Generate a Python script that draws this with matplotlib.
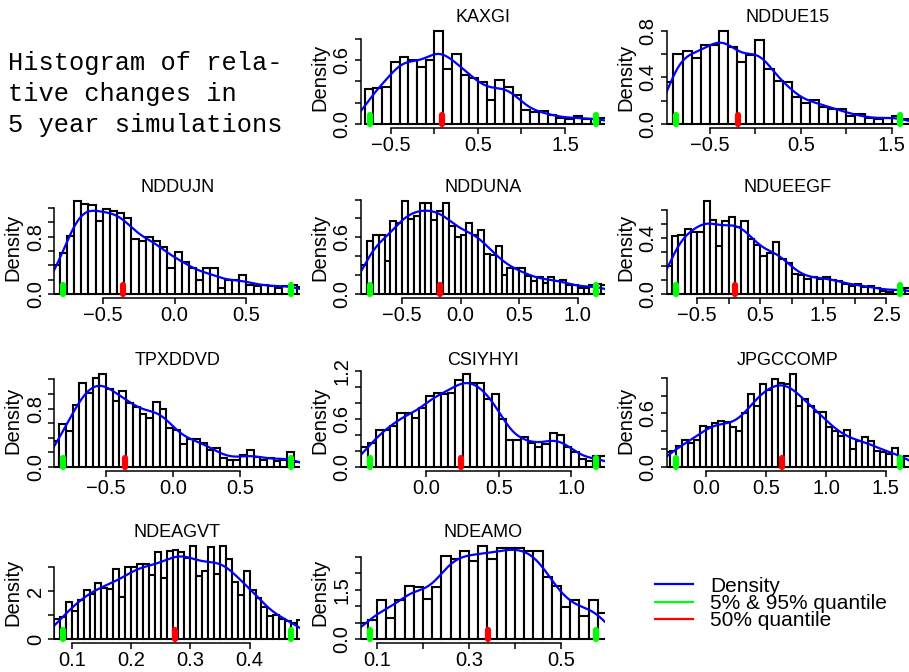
import numpy as np
import matplotlib.pyplot as plt
from matplotlib.lines import Line2D

plt.rcParams['font.family'] = ['Liberation Sans', 'DejaVu Sans']

W, H = 909, 672

# =========================
# Datos
# =========================

names = ["KAXGI", "NDDUE15", "NDDUJN", "NDDUNA", "NDUEEGF",
         "TPXDDVD", "CSIYHYI", "JPGCCOMP", "NDEAGVT", "NDEAMO"]

bin_start = [-0.8, -1.0, -0.85, -0.85, -1.0, -0.9, -0.45, -0.35, 0.07, 0.06]
bin_width = [0.1, 0.1, 0.05, 0.05, 0.1, 0.05, 0.05, 0.05, 0.01, 0.02]

h_kaxgi = [0.33, 0.34, 0.35, 0.58, 0.63, 0.60, 0.54, 0.60, 0.87, 0.52, 0.66,
           0.46, 0.43, 0.39, 0.23, 0.41, 0.35, 0.27, 0.13, 0.11, 0.12, 0.08, 0.06,
           0.045, 0.075, 0.045, 0.045, 0.06]
h_nddue15 = [0.36, 0.60, 0.63, 0.565, 0.68, 0.68, 0.795, 0.66, 0.53, 0.59, 0.72, 0.47,
             0.37, 0.36, 0.23, 0.18, 0.21, 0.15, 0.13, 0.13, 0.066, 0.083, 0.05, 0.04,
             0.055, 0.066, 0.04]
h_nddujn = [0.40, 0.57, 0.81, 1.29, 1.26, 1.24, 1.02, 1.18, 1.16, 1.13, 1.06, 0.76,
            0.74, 0.80, 0.74, 0.66, 0.36, 0.59, 0.44, 0.36, 0.19, 0.36, 0.36, 0.09,
            0.19, 0.19, 0.26, 0.12, 0.115, 0.125, 0.115, 0.09, 0.115, 0.13, 0.10]
h_nddduna = [0.31, 0.565, 0.625, 0.625, 0.35, 0.77, 0.75, 0.98, 0.795, 0.83, 0.965, 0.965,
             0.78, 0.88, 0.965, 0.72, 0.60, 0.62, 0.75, 0.62, 0.68, 0.42, 0.41, 0.51,
             0.20, 0.28, 0.27, 0.27, 0.19, 0.14, 0.18, 0.12, 0.18, 0.14, 0.15, 0.09,
             0.09, 0.06, 0.06, 0.09, 0.11, 0.095]
h_nduegf = [0.20, 0.41, 0.42, 0.46, 0.44, 0.44, 0.66, 0.53, 0.34, 0.52, 0.55, 0.48,
            0.52, 0.39, 0.35, 0.27, 0.29, 0.37, 0.25, 0.22, 0.14, 0.136, 0.107, 0.12,
            0.107, 0.124, 0.10, 0.095, 0.07, 0.06, 0.07, 0.048, 0.06, 0.043, 0.024,
            0.017, 0.029, 0.043, 0.04]
h_tpxddvd = [0.35, 0.586, 0.494, 0.847, 1.153, 1.007, 1.222, 1.268, 1.062, 0.902, 1.043,
             0.87, 0.824, 0.732, 0.677, 0.892, 0.80, 0.54, 0.513, 0.32, 0.39, 0.39, 0.33,
             0.23, 0.26, 0.128, 0.10, 0.092, 0.16, 0.23, 0.137, 0.092, 0.128, 0.082,
             0.10, 0.206, 0.069]
h_csiyhyi = [0.25, 0.295, 0.46, 0.46, 0.51, 0.68, 0.68, 0.62, 0.74, 0.89, 0.93, 0.91,
             0.93, 1.09, 1.16, 1.05, 1.05, 0.85, 0.91, 0.60, 0.34, 0.34, 0.38, 0.295,
             0.245, 0.286, 0.42, 0.40, 0.245, 0.19, 0.105, 0.07, 0.135, 0.135]
h_jpgccomp = [0.17, 0.178, 0.23, 0.304, 0.267, 0.304, 0.463, 0.452, 0.489, 0.519, 0.50,
              0.444, 0.407, 0.60, 0.822, 0.685, 0.926, 0.859, 0.981, 0.944, 0.933, 1.037,
              0.685, 0.759, 0.685, 0.611, 0.611, 0.444, 0.407, 0.352, 0.415, 0.204,
              0.296, 0.333, 0.289, 0.178, 0.167, 0.148, 0.215, 0.111, 0.12]
h_ndeagvt = [0.85, 0.91, 1.54, 1.19, 1.64, 2.03, 1.89, 2.34, 2.14, 2.10, 2.94, 1.75,
             3.03, 3.03, 3.15, 3.12, 2.66, 3.64, 2.56, 3.68, 3.73, 3.64, 3.40, 3.87,
             2.62, 2.83, 3.85, 2.70, 3.87, 3.36, 2.38, 1.82, 2.84, 2.03, 1.72, 1.33,
             0.98, 1.01, 0.84, 0.77, 0.66, 0.80]
h_ndeamo = [0.50, 0.59, 1.17, 0.64, 1.17, 1.62, 1.58, 1.22, 1.58, 2.51, 2.43, 2.66,
            2.38, 2.81, 2.43, 2.76, 2.76, 2.76, 2.66, 2.66, 1.88, 1.62, 0.97, 1.17,
            0.69, 1.17, 0.79]

heights = [h_kaxgi, h_nddue15, h_nddujn, h_nddduna, h_nduegf,
           h_tpxddvd, h_csiyhyi, h_jpgccomp, h_ndeagvt, h_ndeamo]

q05 = [-0.743, -0.875, -0.774, -0.776, -0.842, -0.818, -0.39, -0.255, 0.0859, 0.0841]
q50 = [0.084, -0.187, -0.36, -0.173, 0.097, -0.358, 0.239, 0.632, 0.2745, 0.342]
q95 = [1.856, 1.59, 0.81, 1.156, 2.715, 0.878, 1.17, 1.618, 0.4697, 0.5758]

x_ticks = [[-0.5, 0.0, 0.5, 1.0, 1.5], [-0.5, 0.0, 0.5, 1.0, 1.5], [-0.5, 0.0, 0.5],
           [-0.5, 0.0, 0.5, 1.0], [-0.5, 0.0, 0.5, 1.0, 1.5, 2.0, 2.5], [-0.5, 0.0, 0.5],
           [0.0, 0.5, 1.0], [0.0, 0.5, 1.0, 1.5], [0.1, 0.2, 0.3, 0.4],
           [0.1, 0.2, 0.3, 0.4, 0.5]]
x_shown = [[-0.5, 0.5, 1.5], [-0.5, 0.5, 1.5], [-0.5, 0.0, 0.5], [-0.5, 0.0, 0.5, 1.0],
           [-0.5, 0.5, 1.5, 2.5], [-0.5, 0.0, 0.5], [0.0, 0.5, 1.0], [0.0, 0.5, 1.0, 1.5],
           [0.1, 0.2, 0.3, 0.4], [0.1, 0.3, 0.5]]
y_step = [0.2, 0.2, 0.2, 0.2, 0.1, 0.2, 0.2, 0.2, 1.0, 0.5]
y_top = [0.8, 0.8, 1.2, 1.0, 0.6, 1.2, 1.2, 1.0, 3.0, 2.5]
y_shown = [[0.0, 0.6], [0.0, 0.4, 0.8], [0.0, 0.8], [0.0, 0.6], [0.0, 0.4], [0.0, 0.8],
           [0.0, 0.6, 1.2], [0.0, 0.6], [0.0, 2.0], [0.0, 1.5]]
y_dec = [1, 1, 1, 1, 1, 1, 1, 1, 0, 1]

legend_labels = ["Density", "5% & 95% quantile", "50% quantile"]
legend_colors = ["#0000ff", "#00ff00", "#ff0000"]

# posiciones de los paneles (fila, columna) y cajas en pixeles
slots = [(0, 1), (0, 2), (1, 0), (1, 1), (1, 2), (2, 0), (2, 1), (2, 2), (3, 0), (3, 1)]
col_px = [(54.3, 300.0), (360.7, 605.0), (666.7, 909.0)]
row_px = [(27.7, 127.7), (197.7, 297.7), (370.7, 470.7), (542.7, 642.7)]


def density(start, width, h, grid, n=1000):
    # densidad suavizada a partir del histograma (ancho de banda tipo nrd0)
    h = np.asarray(h)
    centers = start + width * (np.arange(len(h)) + 0.5)
    mass = h * width
    p = mass / mass.sum()
    mu = (p * centers).sum()
    sd = np.sqrt((p * (centers - mu) ** 2).sum())
    cdf = np.cumsum(p)
    edges = start + width * np.arange(1, len(h) + 1)
    iqr = np.interp(0.75, cdf, edges) - np.interp(0.25, cdf, edges)
    bw = 0.9 * min(sd, iqr / 1.34) * n ** -0.2
    s = np.sqrt(bw ** 2 + width ** 2 / 12)
    z = (grid[None, :] - centers[:, None]) / s
    return (mass[:, None] * np.exp(-0.5 * z ** 2) / (s * np.sqrt(2 * np.pi))).sum(axis=0)


def fmt(v, d):
    return (f"{v:.{d}f}").replace("-", "\u2212")


fig = plt.figure(figsize=(W / 100, H / 100), dpi=100)

for i, name in enumerate(names):
    r, c = slots[i]
    x0, x1 = col_px[c]
    y0, y1 = row_px[r]
    ax = fig.add_axes([x0 / W, 1 - y1 / H, (x1 - x0) / W, (y1 - y0) / H])

    h = np.array(heights[i])
    w = bin_width[i]
    lefts = bin_start[i] + w * np.arange(len(h))
    ax.bar(lefts, h, width=w, align="edge", color="white", edgecolor="black",
           linewidth=1.5)

    span = q95[i] - q05[i]
    ax.set_xlim(q05[i] - 0.04 * span, q95[i] + 0.04 * span)
    ymax = h.max()
    ax.set_ylim(-0.04 * ymax, 1.04 * ymax)

    grid = np.linspace(q05[i] - 0.05 * span, q95[i] + 0.05 * span, 500)
    ax.plot(grid, density(bin_start[i], w, h, grid), color="#0000ff", lw=1.6)

    mark = 0.1 * ymax
    for q, col in [(q05[i], "#00ff00"), (q95[i], "#00ff00"), (q50[i], "#ff0000")]:
        ax.plot([q, q], [0, mark], color=col, lw=4.5, solid_capstyle="round")

    # ejes estilo R
    for s in ["top", "right"]:
        ax.spines[s].set_visible(False)
    xt = x_ticks[i]
    ax.set_xticks(xt)
    ax.set_xticklabels([fmt(v, 1) if any(abs(v - s) < 1e-9 for s in x_shown[i]) else ""
                        for v in xt])
    yt = np.arange(0, y_top[i] + 1e-9, y_step[i])
    ax.set_yticks(yt)
    ax.set_yticklabels([fmt(v, y_dec[i]) if any(abs(v - s) < 1e-9 for s in y_shown[i]) else ""
                        for v in yt])
    ax.spines["bottom"].set_bounds(xt[0], xt[-1])
    ax.spines["left"].set_bounds(0, y_top[i])
    for s in ["bottom", "left"]:
        ax.spines[s].set_linewidth(1.1)
    ax.tick_params(axis="both", length=4.5, width=1.1, labelsize=14.5)
    ax.tick_params(axis="x", pad=1.5)
    ax.tick_params(axis="y", pad=2)
    for lab in ax.get_yticklabels():
        lab.set_rotation(90)
        lab.set_va("center")

    ax.set_title(name, fontsize=13, pad=4)
    ax.text(-41 / (x1 - x0), 0.5, "Density", transform=ax.transAxes, rotation=90,
            ha="center", va="center", fontsize=14.5)

# texto del primer panel
mono_lines = ["Histogram of rela-", "tive changes in", "5 year simulations"]
for k, line in enumerate(mono_lines):
    fig.text(8 / W, 1 - (70 + 31 * k) / H, line, family="Liberation Mono",
             fontsize=18.3, va="baseline", ha="left")

# leyenda
for k, (lab, col) in enumerate(zip(legend_labels, legend_colors)):
    yy = 584.3 + 17.35 * k
    fig.add_artist(Line2D([655 / W, 693 / W], [1 - yy / H, 1 - yy / H], color=col,
                          lw=1.6, transform=fig.transFigure))
    fig.text(710 / W, 1 - (yy + 7.2) / H, lab, fontsize=15, va="baseline", ha="left")

fig.savefig("out.png", dpi=100)
